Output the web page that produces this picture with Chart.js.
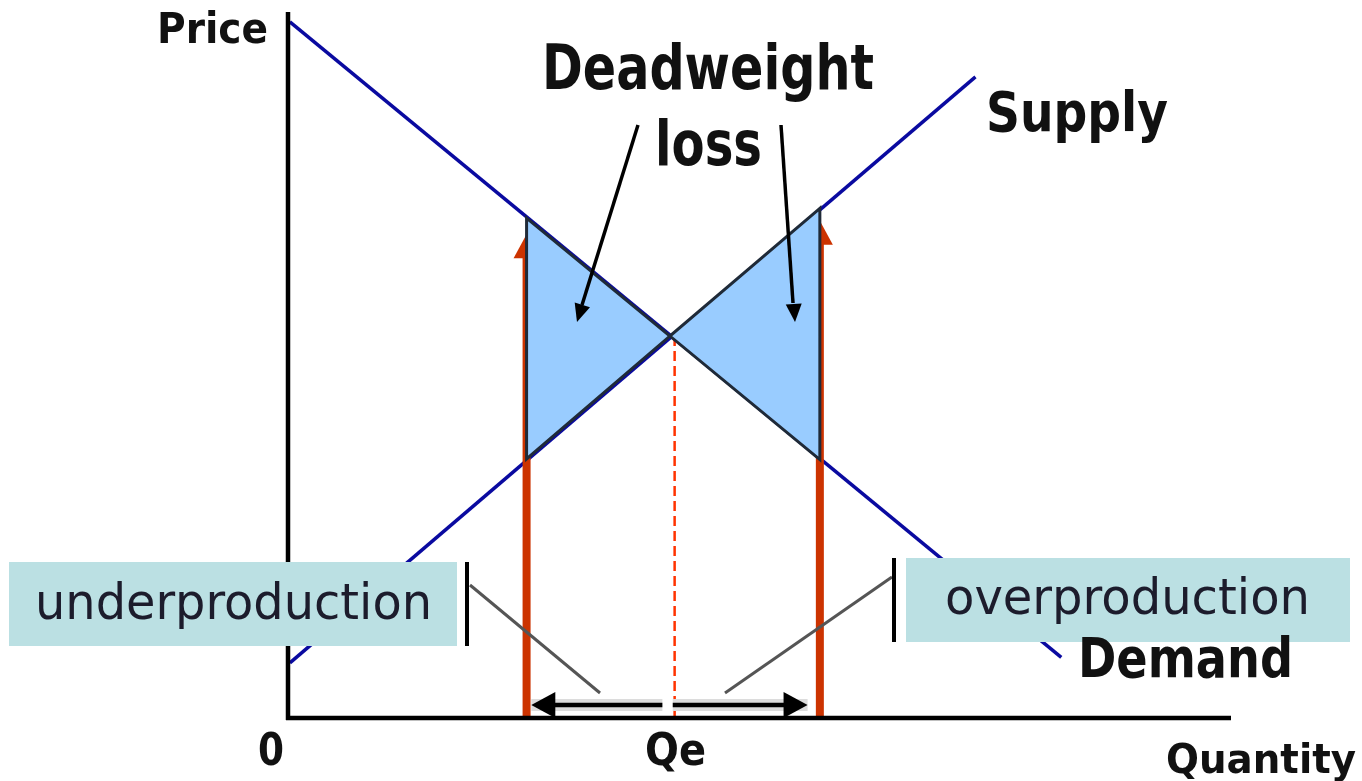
<!DOCTYPE html>
<html>
<head>
<meta charset="utf-8">
<script src="https://cdn.jsdelivr.net/npm/chart.js@4/dist/chart.umd.min.js"></script>
<style>
  html, body { margin: 0; padding: 0; background: #fff; }
  #chart { display: block; }
</style>
</head>
<body>
<canvas id="chart" width="1362" height="781"></canvas>
<script>
// values (quantity 0-100, price 0-100)
var demandQ = [0.2, 82.0]
var demandP = [98.6, 8.6]
var supplyQ = [0.2, 72.9]
var supplyP = [7.8, 90.8]
var lossLeftQ = [25.3, 40.5, 25.3, 25.3]
var lossLeftP = [70.8, 54.1, 36.7, 70.8]
var lossRightQ = [56.4, 40.5, 56.4, 56.4]
var lossRightP = [72.2, 54.1, 36.6, 72.2]
var limitQ = [25.3, 56.4]
var limitTopP = [65.4, 67.3]
var qe = 41.0
var peq = 54.1

function points (xs, ys) {
  var out = []
  for (var i in xs) out.push({ x: xs[i], y: ys[i] })
  return out
}

function font (size, weight) {
  return (weight || 'normal') + ' ' + size + 'px "DejaVu Sans", sans-serif'
}

// text squeezed / stretched to the span it takes in the reference
function fitText (ctx, text, x0, x1, baseline, size, weight, color) {
  ctx.save()
  ctx.font = font(size, weight)
  var w = ctx.measureText(text).width
  ctx.translate(x0, baseline)
  ctx.scale((x1 - x0) / w, 1)
  ctx.fillStyle = color
  ctx.textBaseline = 'alphabetic'
  ctx.fillText(text, 0, 0)
  ctx.restore()
}

function arrowHead (ctx, fromX, fromY, tipX, tipY, len, half, color) {
  var a = Math.atan2(tipY - fromY, tipX - fromX)
  ctx.save()
  ctx.fillStyle = color
  ctx.beginPath()
  ctx.moveTo(tipX, tipY)
  ctx.lineTo(tipX - len * Math.cos(a) + half * Math.sin(a), tipY - len * Math.sin(a) - half * Math.cos(a))
  ctx.lineTo(tipX - len * Math.cos(a) - half * Math.sin(a), tipY - len * Math.sin(a) + half * Math.cos(a))
  ctx.closePath()
  ctx.fill()
  ctx.restore()
}

function segment (ctx, x0, y0, x1, y1, width, color) {
  ctx.save()
  ctx.strokeStyle = color
  ctx.lineWidth = width
  ctx.beginPath()
  ctx.moveTo(x0, y0)
  ctx.lineTo(x1, y1)
  ctx.stroke()
  ctx.restore()
}

var labels = [
  { text: 'Price', x0: 157, x1: 268, base: 43, size: 42, weight: 'bold' },
  { text: 'Deadweight', x0: 542, x1: 874, base: 89, size: 63, weight: 'bold' },
  { text: 'loss', x0: 655, x1: 762, base: 165, size: 62, weight: 'bold' },
  { text: 'Supply', x0: 986, x1: 1168, base: 131, size: 56, weight: 'bold' },
  { text: 'Demand', x0: 1078, x1: 1293, base: 677, size: 56, weight: 'bold' },
  { text: '0', x0: 258, x1: 284, base: 765, size: 44, weight: 'bold' },
  { text: 'Qe', x0: 645, x1: 706, base: 765, size: 44, weight: 'bold' },
  { text: 'Quantity', x0: 1166, x1: 1356, base: 773, size: 41, weight: 'bold' }
]

var boxes = [
  { text: 'underproduction', left: 9, top: 562, right: 457, bottom: 646, x0: 35, x1: 432, base: 619, bar: 467 },
  { text: 'overproduction', left: 906, top: 558, right: 1350, bottom: 642, x0: 945, x1: 1310, base: 614, bar: 894 }
]

var overlay = {
  id: 'overlay',
  afterDatasetsDraw: function (chart) {
    var ctx = chart.ctx
    var xs = chart.scales.x
    var ys = chart.scales.y
    var a = chart.chartArea

    // arrow heads on top of the red quantity lines
    for (var i in limitQ) {
      var px = xs.getPixelForValue(limitQ[i])
      var py = ys.getPixelForValue(limitTopP[i])
      arrowHead(ctx, px, py + 10, px, py - 22, 24, 13, '#cc3300')
    }

    // redraw the deadweight triangles over the red lines
    var polys = [[lossLeftQ, lossLeftP], [lossRightQ, lossRightP]]
    polys.forEach(function (p) {
      ctx.save()
      ctx.beginPath()
      for (var k in p[0]) {
        var x = xs.getPixelForValue(p[0][k])
        var y = ys.getPixelForValue(p[1][k])
        if (k == 0) ctx.moveTo(x, y)
        else ctx.lineTo(x, y)
      }
      ctx.closePath()
      ctx.fillStyle = '#99ccff'
      ctx.fill()
      ctx.strokeStyle = '#1f2a38'
      ctx.lineWidth = 3
      ctx.stroke()
      ctx.restore()
    })

    // axes
    segment(ctx, a.left, a.top, a.left, a.bottom + 2, 4.5, '#000')
    segment(ctx, a.left - 2, a.bottom, a.right, a.bottom, 4.5, '#000')

    // double arrows from Qe to the two quantities
    var ay = ys.getPixelForValue(1.85)
    var spans = [[39.7, 25.8], [40.8, 55.1]]
    spans.forEach(function (s) {
      var x0 = xs.getPixelForValue(s[0])
      var x1 = xs.getPixelForValue(s[1])
      segment(ctx, x0, ay, x1, ay, 12, '#dcdcdc')
      segment(ctx, x0, ay, x1 + (x1 > x0 ? -12 : 12), ay, 4.5, '#000')
      arrowHead(ctx, x0, ay, x1, ay, 24, 13, '#000')
    })

    // deadweight loss pointers
    segment(ctx, 638, 125, 582, 305, 3.5, '#000')
    arrowHead(ctx, 638, 125, 577, 322, 18, 8, '#000')
    segment(ctx, 781, 125, 793, 303, 3.5, '#000')
    arrowHead(ctx, 781, 125, 795, 322, 18, 8, '#000')

    // boxes with pointer lines
    segment(ctx, 470, 585, 600, 693, 3, '#555')
    segment(ctx, 892, 577, 725, 693, 3, '#555')
    boxes.forEach(function (b) {
      ctx.save()
      ctx.fillStyle = '#bbe0e3'
      ctx.fillRect(b.left, b.top, b.right - b.left, b.bottom - b.top)
      ctx.restore()
      segment(ctx, b.bar, b.top, b.bar, b.bottom, 4, '#000')
      fitText(ctx, b.text, b.x0, b.x1, b.base, 50, 'normal', '#1c1c2c')
    })

    labels.forEach(function (l) {
      fitText(ctx, l.text, l.x0, l.x1, l.base, l.size, l.weight, '#111')
    })
  }
}

new Chart(document.getElementById('chart'), {
  type: 'scatter',
  data: {
    datasets: [
      {
        label: 'Qe',
        data: [{ x: qe, y: peq }, { x: qe, y: 0 }],
        showLine: true,
        borderColor: '#ff3300',
        borderWidth: 2.5,
        borderDash: [10, 5]
      },
      {
        label: 'Underproduction',
        data: [{ x: limitQ[0], y: 0 }, { x: limitQ[0], y: limitTopP[0] }],
        showLine: true,
        borderColor: '#cc3300',
        borderWidth: 8
      },
      {
        label: 'Overproduction',
        data: [{ x: limitQ[1], y: 0 }, { x: limitQ[1], y: limitTopP[1] }],
        showLine: true,
        borderColor: '#cc3300',
        borderWidth: 8
      },
      {
        label: 'Demand',
        data: points(demandQ, demandP),
        showLine: true,
        borderColor: '#0a0aa0',
        borderWidth: 3.5
      },
      {
        label: 'Supply',
        data: points(supplyQ, supplyP),
        showLine: true,
        borderColor: '#0a0aa0',
        borderWidth: 3.5
      }
    ]
  },
  options: {
    responsive: false,
    animation: false,
    devicePixelRatio: 1,
    layout: { padding: { left: 288, top: 12, right: 131, bottom: 63 } },
    elements: { point: { radius: 0, hoverRadius: 0 }, line: { tension: 0 } },
    plugins: { legend: { display: false }, tooltip: { enabled: false } },
    scales: {
      x: { type: 'linear', min: 0, max: 100, display: false },
      y: { type: 'linear', min: 0, max: 100, display: false }
    }
  },
  plugins: [overlay]
})
</script>
</body>
</html>
